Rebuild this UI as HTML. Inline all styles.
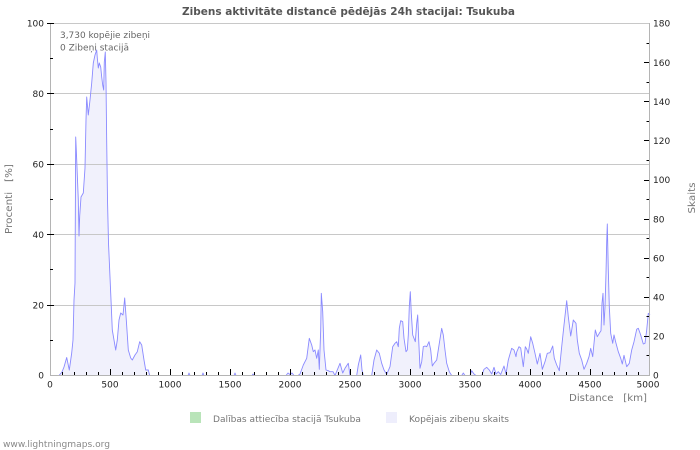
<!DOCTYPE html>
<html>
<head>
<meta charset="utf-8">
<style>
html,body{margin:0;padding:0;background:#fff;}
svg{display:block;}
text{font-family:"DejaVu Sans","Liberation Sans",sans-serif;}
</style>
</head>
<body>
<svg width="700" height="450" viewBox="0 0 700 450" xmlns="http://www.w3.org/2000/svg">
<rect x="0" y="0" width="700" height="450" fill="#fff"/>

<!-- Title -->
<text x="348.5" y="15" text-anchor="middle" font-size="10.5" font-weight="bold" fill="#555" textLength="333" lengthAdjust="spacingAndGlyphs">Zibens aktivitāte distancē pēdējās 24h stacijai: Tsukuba</text>

<!-- series fill -->
<polygon fill="#f1f1fc" stroke="none" points="50,375.5 59,375.5 62,372 64,367 66.7,357.5 69.3,370 71.7,353 73,340 74,300 75,283 75.7,137 76.3,150 77.3,175 78.3,200 79,236 79.7,216 81,197 83.3,193 85,168 86,120 86.7,97 88.3,115 90,100 91.7,83 93.3,63 95,55 96.7,50 97.3,58 98.3,68 99.3,63 100.7,67 101.7,77 102.7,85 103.7,90 104.3,62 105.3,52 106,82 106.7,142 107.5,200 108.5,243 110.7,293 112.3,330 115.7,350 117.3,340 119,320 120.7,313 123,315 124.7,298 126.3,320 128.3,350 130.7,358 132.3,360 135,355 137.3,351.7 139.7,341.7 141.7,345 144,360 145.7,370 148.3,370 149.7,375.5 188,375.5 189,373 190,375.5 202,375.5 203,373 204,375.5 234,375.5 235,373 236,375.5 252,375.5 253,374 254,375.5 286,375.5 288,373 290,374.5 292,373 294,375.5 298,375.5 300,374 303.3,365 306.7,358.3 309.3,338.3 311.7,345 313.3,351.7 315,350 316.7,358.3 318.3,350 319.3,369.3 320.7,330 321.3,293.3 322.7,311.7 324,350 326,370 328.3,370.7 330,371.7 333,371.7 335,375.5 340,363.3 342.7,373 345,368.3 348.3,363.3 350,375.5 356.7,375.5 358.3,365 360.7,355 362,370 363.3,375.5 371.7,375.5 374,360 376.7,350 379.3,353.3 381.7,363.3 384,370 386.7,374.3 390,366.7 392.7,346.7 395,343.3 396.7,341.7 398.3,346.7 399.3,328.3 400.7,320.7 402.7,321.7 404,338.3 406,351.7 407.3,350 408.3,335 409.3,306.7 410.3,291.7 411.3,313.3 412.7,335 414,338.3 415.3,341.7 416.7,323.3 417.7,315 418.7,340 420,368.3 421.7,361.7 423.3,346.7 425,346 426.7,346.7 429,341.7 430.7,350 432.3,366 434,363.3 436.7,360 439.3,343.3 441.7,328.3 443.3,335 445,350 446.7,363.3 449.3,371.7 451.7,375.5 461.7,375.5 463.3,373 465,375.5 470,375.5 471.7,370.7 474,374 476,375.5 481.7,375.5 484,369.3 486.7,367.3 489.3,370 491.7,374 494,367.3 496,374 498.3,371.7 500.7,374.5 504,366 506,374 508.3,360 511.7,348.3 514,350 516,356.7 516.7,352 519,346.7 520.7,348 523.3,366.7 525.3,346.7 526.7,349 528.3,353.3 530.7,336.7 532.7,343.3 535,353.3 537.3,364 540,353.3 542.3,369.3 545,361.7 547.3,353.3 550,352.7 552.7,346 554.3,358.3 556.7,365 559.3,370.7 561.7,346.7 564,325 566.7,300.7 568.3,316.7 570.7,336 571.7,330 573.3,320 576,323.3 577.3,340 579.3,353.3 581.7,360 584,369.3 586.7,363.3 589,356.7 590.7,348.3 592.7,356.7 595.3,330 597.3,336.7 599.3,333.3 601,330.7 602,303.3 603,293.3 604,325 605,306.7 606,273.3 606.7,241.7 607.3,224 608.3,270 609.3,306.7 610.7,333.3 612.7,343.3 614,335 616,343.3 618.3,351.7 620.7,358.3 622.3,364 624,355.3 626.7,366.7 629.3,363.3 631.7,350 634,341.7 636.7,329.3 638.3,328.3 640.7,335 643.3,344 645,343.3 646.7,330 648.3,313.3 650,315 650,375.5"/>

<!-- grid -->
<g stroke="#c8c8c8" stroke-width="1">
<line x1="50" y1="23.5" x2="650" y2="23.5"/>
<line x1="50" y1="93.5" x2="650" y2="93.5"/>
<line x1="50" y1="164.5" x2="650" y2="164.5"/>
<line x1="50" y1="234.5" x2="650" y2="234.5"/>
<line x1="50" y1="305.5" x2="650" y2="305.5"/>
</g>

<!-- series line -->
<polyline fill="none" stroke="#8a8aff" stroke-width="0.9" stroke-linejoin="round" points="50,375.5 59,375.5 62,372 64,367 66.7,357.5 69.3,370 71.7,353 73,340 74,300 75,283 75.7,137 76.3,150 77.3,175 78.3,200 79,236 79.7,216 81,197 83.3,193 85,168 86,120 86.7,97 88.3,115 90,100 91.7,83 93.3,63 95,55 96.7,50 97.3,58 98.3,68 99.3,63 100.7,67 101.7,77 102.7,85 103.7,90 104.3,62 105.3,52 106,82 106.7,142 107.5,200 108.5,243 110.7,293 112.3,330 115.7,350 117.3,340 119,320 120.7,313 123,315 124.7,298 126.3,320 128.3,350 130.7,358 132.3,360 135,355 137.3,351.7 139.7,341.7 141.7,345 144,360 145.7,370 148.3,370 149.7,375.5 188,375.5 189,373 190,375.5 202,375.5 203,373 204,375.5 234,375.5 235,373 236,375.5 252,375.5 253,374 254,375.5 286,375.5 288,373 290,374.5 292,373 294,375.5 298,375.5 300,374 303.3,365 306.7,358.3 309.3,338.3 311.7,345 313.3,351.7 315,350 316.7,358.3 318.3,350 319.3,369.3 320.7,330 321.3,293.3 322.7,311.7 324,350 326,370 328.3,370.7 330,371.7 333,371.7 335,375.5 340,363.3 342.7,373 345,368.3 348.3,363.3 350,375.5 356.7,375.5 358.3,365 360.7,355 362,370 363.3,375.5 371.7,375.5 374,360 376.7,350 379.3,353.3 381.7,363.3 384,370 386.7,374.3 390,366.7 392.7,346.7 395,343.3 396.7,341.7 398.3,346.7 399.3,328.3 400.7,320.7 402.7,321.7 404,338.3 406,351.7 407.3,350 408.3,335 409.3,306.7 410.3,291.7 411.3,313.3 412.7,335 414,338.3 415.3,341.7 416.7,323.3 417.7,315 418.7,340 420,368.3 421.7,361.7 423.3,346.7 425,346 426.7,346.7 429,341.7 430.7,350 432.3,366 434,363.3 436.7,360 439.3,343.3 441.7,328.3 443.3,335 445,350 446.7,363.3 449.3,371.7 451.7,375.5 461.7,375.5 463.3,373 465,375.5 470,375.5 471.7,370.7 474,374 476,375.5 481.7,375.5 484,369.3 486.7,367.3 489.3,370 491.7,374 494,367.3 496,374 498.3,371.7 500.7,374.5 504,366 506,374 508.3,360 511.7,348.3 514,350 516,356.7 516.7,352 519,346.7 520.7,348 523.3,366.7 525.3,346.7 526.7,349 528.3,353.3 530.7,336.7 532.7,343.3 535,353.3 537.3,364 540,353.3 542.3,369.3 545,361.7 547.3,353.3 550,352.7 552.7,346 554.3,358.3 556.7,365 559.3,370.7 561.7,346.7 564,325 566.7,300.7 568.3,316.7 570.7,336 571.7,330 573.3,320 576,323.3 577.3,340 579.3,353.3 581.7,360 584,369.3 586.7,363.3 589,356.7 590.7,348.3 592.7,356.7 595.3,330 597.3,336.7 599.3,333.3 601,330.7 602,303.3 603,293.3 604,325 605,306.7 606,273.3 606.7,241.7 607.3,224 608.3,270 609.3,306.7 610.7,333.3 612.7,343.3 614,335 616,343.3 618.3,351.7 620.7,358.3 622.3,364 624,355.3 626.7,366.7 629.3,363.3 631.7,350 634,341.7 636.7,329.3 638.3,328.3 640.7,335 643.3,344 645,343.3 646.7,330 648.3,313.3 650,315"/>

<!-- axes lines -->
<g stroke="#b4b4b4" stroke-width="1">
<line x1="50.5" y1="23" x2="50.5" y2="376"/>
<line x1="649.5" y1="23" x2="649.5" y2="376"/>
<line x1="50" y1="375.5" x2="650" y2="375.5"/>
</g>

<!-- left ticks -->
<g stroke="#000" stroke-width="1">
<line x1="47" y1="23.5" x2="54" y2="23.5"/>
<line x1="47" y1="93.5" x2="54" y2="93.5"/>
<line x1="47" y1="164.5" x2="54" y2="164.5"/>
<line x1="47" y1="234.5" x2="54" y2="234.5"/>
<line x1="47" y1="305.5" x2="54" y2="305.5"/>
<line x1="50" y1="58.5" x2="53" y2="58.5"/>
<line x1="50" y1="129.5" x2="53" y2="129.5"/>
<line x1="50" y1="199.5" x2="53" y2="199.5"/>
<line x1="50" y1="269.5" x2="53" y2="269.5"/>
<line x1="50" y1="340.5" x2="53" y2="340.5"/>
</g>

<!-- right ticks -->
<g stroke="#000" stroke-width="1">
<line x1="644" y1="62.5" x2="649" y2="62.5"/>
<line x1="644" y1="101.5" x2="649" y2="101.5"/>
<line x1="644" y1="140.5" x2="649" y2="140.5"/>
<line x1="644" y1="180.5" x2="649" y2="180.5"/>
<line x1="644" y1="219.5" x2="649" y2="219.5"/>
<line x1="644" y1="258.5" x2="649" y2="258.5"/>
<line x1="644" y1="297.5" x2="649" y2="297.5"/>
<line x1="644" y1="336.5" x2="649" y2="336.5"/>
<line x1="646.5" y1="43.5" x2="649" y2="43.5"/>
<line x1="646.5" y1="82.5" x2="649" y2="82.5"/>
<line x1="646.5" y1="121.5" x2="649" y2="121.5"/>
<line x1="646.5" y1="160.5" x2="649" y2="160.5"/>
<line x1="646.5" y1="199.5" x2="649" y2="199.5"/>
<line x1="646.5" y1="238.5" x2="649" y2="238.5"/>
<line x1="646.5" y1="277.5" x2="649" y2="277.5"/>
<line x1="646.5" y1="316.5" x2="649" y2="316.5"/>
<line x1="646.5" y1="355.5" x2="649" y2="355.5"/>
</g>

<!-- bottom ticks -->
<g stroke="#000" stroke-width="1">
<line x1="110.5" y1="369" x2="110.5" y2="375"/>
<line x1="170.5" y1="369" x2="170.5" y2="375"/>
<line x1="230.5" y1="369" x2="230.5" y2="375"/>
<line x1="290.5" y1="369" x2="290.5" y2="375"/>
<line x1="350.5" y1="369" x2="350.5" y2="375"/>
<line x1="410.5" y1="369" x2="410.5" y2="375"/>
<line x1="470.5" y1="369" x2="470.5" y2="375"/>
<line x1="530.5" y1="369" x2="530.5" y2="375"/>
<line x1="590.5" y1="369" x2="590.5" y2="375"/>
<line x1="62.5" y1="372" x2="62.5" y2="375"/><line x1="74.5" y1="372" x2="74.5" y2="375"/><line x1="86.5" y1="372" x2="86.5" y2="375"/><line x1="98.5" y1="372" x2="98.5" y2="375"/>
<line x1="122.5" y1="372" x2="122.5" y2="375"/><line x1="134.5" y1="372" x2="134.5" y2="375"/><line x1="146.5" y1="372" x2="146.5" y2="375"/><line x1="158.5" y1="372" x2="158.5" y2="375"/>
<line x1="182.5" y1="372" x2="182.5" y2="375"/><line x1="194.5" y1="372" x2="194.5" y2="375"/><line x1="206.5" y1="372" x2="206.5" y2="375"/><line x1="218.5" y1="372" x2="218.5" y2="375"/>
<line x1="242.5" y1="372" x2="242.5" y2="375"/><line x1="254.5" y1="372" x2="254.5" y2="375"/><line x1="266.5" y1="372" x2="266.5" y2="375"/><line x1="278.5" y1="372" x2="278.5" y2="375"/>
<line x1="302.5" y1="372" x2="302.5" y2="375"/><line x1="314.5" y1="372" x2="314.5" y2="375"/><line x1="326.5" y1="372" x2="326.5" y2="375"/><line x1="338.5" y1="372" x2="338.5" y2="375"/>
<line x1="362.5" y1="372" x2="362.5" y2="375"/><line x1="374.5" y1="372" x2="374.5" y2="375"/><line x1="386.5" y1="372" x2="386.5" y2="375"/><line x1="398.5" y1="372" x2="398.5" y2="375"/>
<line x1="422.5" y1="372" x2="422.5" y2="375"/><line x1="434.5" y1="372" x2="434.5" y2="375"/><line x1="446.5" y1="372" x2="446.5" y2="375"/><line x1="458.5" y1="372" x2="458.5" y2="375"/>
<line x1="482.5" y1="372" x2="482.5" y2="375"/><line x1="494.5" y1="372" x2="494.5" y2="375"/><line x1="506.5" y1="372" x2="506.5" y2="375"/><line x1="518.5" y1="372" x2="518.5" y2="375"/>
<line x1="542.5" y1="372" x2="542.5" y2="375"/><line x1="554.5" y1="372" x2="554.5" y2="375"/><line x1="566.5" y1="372" x2="566.5" y2="375"/><line x1="578.5" y1="372" x2="578.5" y2="375"/>
<line x1="602.5" y1="372" x2="602.5" y2="375"/><line x1="614.5" y1="372" x2="614.5" y2="375"/><line x1="626.5" y1="372" x2="626.5" y2="375"/><line x1="638.5" y1="372" x2="638.5" y2="375"/>
</g>

<!-- left labels -->
<g font-size="9" fill="#222" text-anchor="end">
<text x="44" y="26.5">100</text>
<text x="44" y="97">80</text>
<text x="44" y="167.5">60</text>
<text x="44" y="238">40</text>
<text x="44" y="308.5">20</text>
<text x="44" y="378.5">0</text>
</g>

<!-- right labels -->
<g font-size="9" fill="#222" text-anchor="start">
<text x="653" y="26.5">180</text>
<text x="653" y="65.8">160</text>
<text x="653" y="105">140</text>
<text x="653" y="144">120</text>
<text x="653" y="183.2">100</text>
<text x="653" y="222.3">80</text>
<text x="653" y="261.4">60</text>
<text x="653" y="300.5">40</text>
<text x="653" y="339.6">20</text>
<text x="653" y="378.7">0</text>
</g>

<!-- bottom labels -->
<g font-size="9" fill="#222" text-anchor="middle">
<text x="50" y="387.5">0</text>
<text x="110" y="387.5">500</text>
<text x="170" y="387.5">1000</text>
<text x="230" y="387.5">1500</text>
<text x="290" y="387.5">2000</text>
<text x="350" y="387.5">2500</text>
<text x="410" y="387.5">3000</text>
<text x="470" y="387.5">3500</text>
<text x="530" y="387.5">4000</text>
<text x="590" y="387.5">4500</text>
<text x="648" y="387.5">5000</text>
</g>

<!-- axis titles -->
<text x="647" y="401" font-size="10" fill="#777" text-anchor="end" textLength="78" lengthAdjust="spacingAndGlyphs" xml:space="preserve">Distance   [km]</text>
<text transform="translate(12,199) rotate(-90)" font-size="10" fill="#777" text-anchor="middle" textLength="70" lengthAdjust="spacingAndGlyphs" xml:space="preserve">Procenti   [%]</text>
<text transform="translate(695,198) rotate(-90)" font-size="10" fill="#777" text-anchor="middle" textLength="31" lengthAdjust="spacingAndGlyphs">Skaits</text>

<!-- annotations -->
<text x="60" y="38" font-size="9" fill="#666" textLength="90" lengthAdjust="spacingAndGlyphs">3,730 kopējie zibeņi</text>
<text x="60" y="50.5" font-size="9" fill="#666" textLength="69" lengthAdjust="spacingAndGlyphs">0 Zibeņi stacijā</text>

<!-- legend -->
<rect x="190" y="412" width="11" height="11" fill="#b9e4b9"/>
<text x="213" y="422" font-size="9" fill="#777" textLength="148" lengthAdjust="spacingAndGlyphs">Dalības attiecība stacijā Tsukuba</text>
<rect x="386" y="412" width="11" height="11" fill="#eeeefc"/>
<text x="409" y="422" font-size="9" fill="#777" textLength="100" lengthAdjust="spacingAndGlyphs">Kopējais zibeņu skaits</text>

<!-- footer -->
<text x="3" y="447" font-size="9" fill="#888" textLength="107" lengthAdjust="spacingAndGlyphs">www.lightningmaps.org</text>
</svg>
</body>
</html>
